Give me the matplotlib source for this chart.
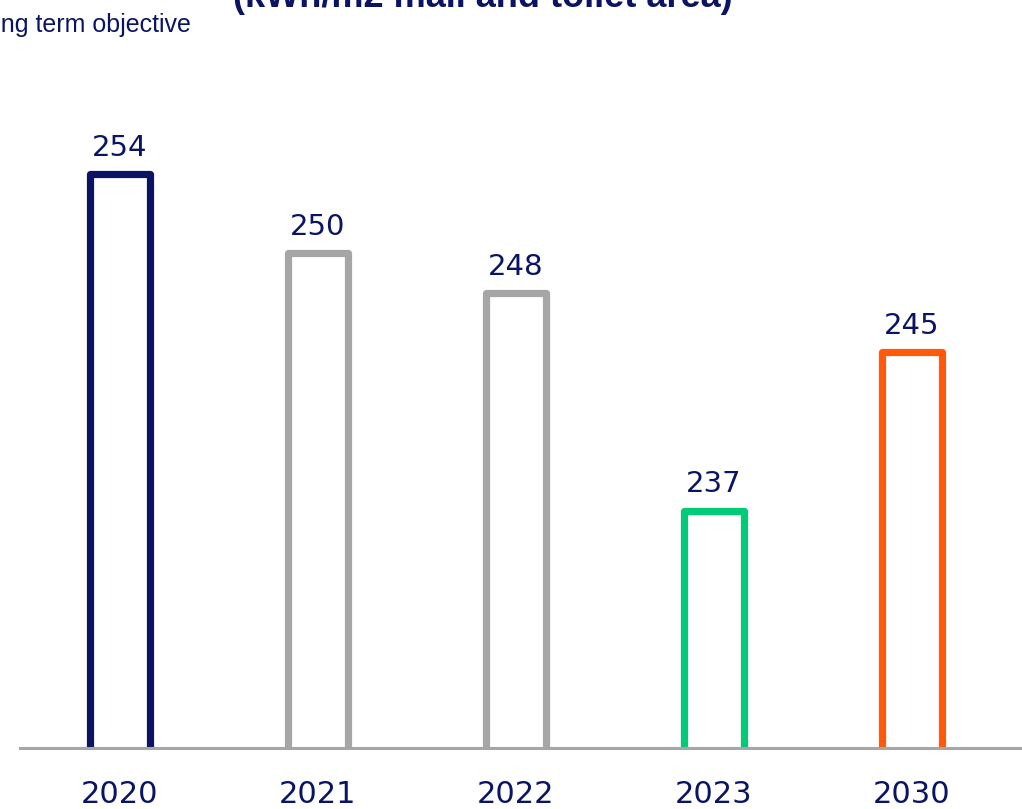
import matplotlib.pyplot as plt

years = ['2020', '2021', '2022', '2023', '2030']
values = [254, 250, 248, 237, 245]
colors = ['#0b1463', '#a6a6a6', '#a6a6a6', '#00cc77', '#ff5a0a']
navy = '#0b1463'

fig = plt.figure(figsize=(10.22, 8.09), dpi=100)
ax = fig.add_axes([20/1022, 61/809, 1002/1022, 748/809])

x = range(len(years))
bars = ax.bar(x, values, width=0.3, bottom=0, fill=False,
              edgecolor=colors, linewidth=5.2, joinstyle='round', zorder=2)

for xi, v in zip(x, values):
    ax.annotate(str(v), (xi, v), xytext=(0, 13), textcoords='offset points',
                ha='center', va='baseline', fontsize=21, color=navy,
                family='DejaVu Sans')

ax.set_xlim(-0.505, 4.556)
ax.set_ylim(225, 262.8)
for s in ['top', 'right', 'left']:
    ax.spines[s].set_visible(False)
ax.spines['bottom'].set_color('#a6a6a6')
ax.spines['bottom'].set_linewidth(2.2)
ax.spines['bottom'].set_zorder(3)
ax.set_yticks([])
ax.set_xticks(list(x))
ax.set_xticklabels(years, fontsize=22, color=navy, family='DejaVu Sans')
ax.tick_params(axis='x', length=0, pad=23)

fig.text(483/1022, 1 - 7/809, '(kWh/m2 mall and toilet area)', ha='center',
         va='baseline', fontsize=26, fontweight='bold', color=navy,
         family='Liberation Sans')
fig.text(-27/1022, 1 - 32/809, 'Long term objective', ha='left', va='baseline',
         fontsize=18, color=navy, family='Liberation Sans')

fig.savefig('out.png', dpi=100)
